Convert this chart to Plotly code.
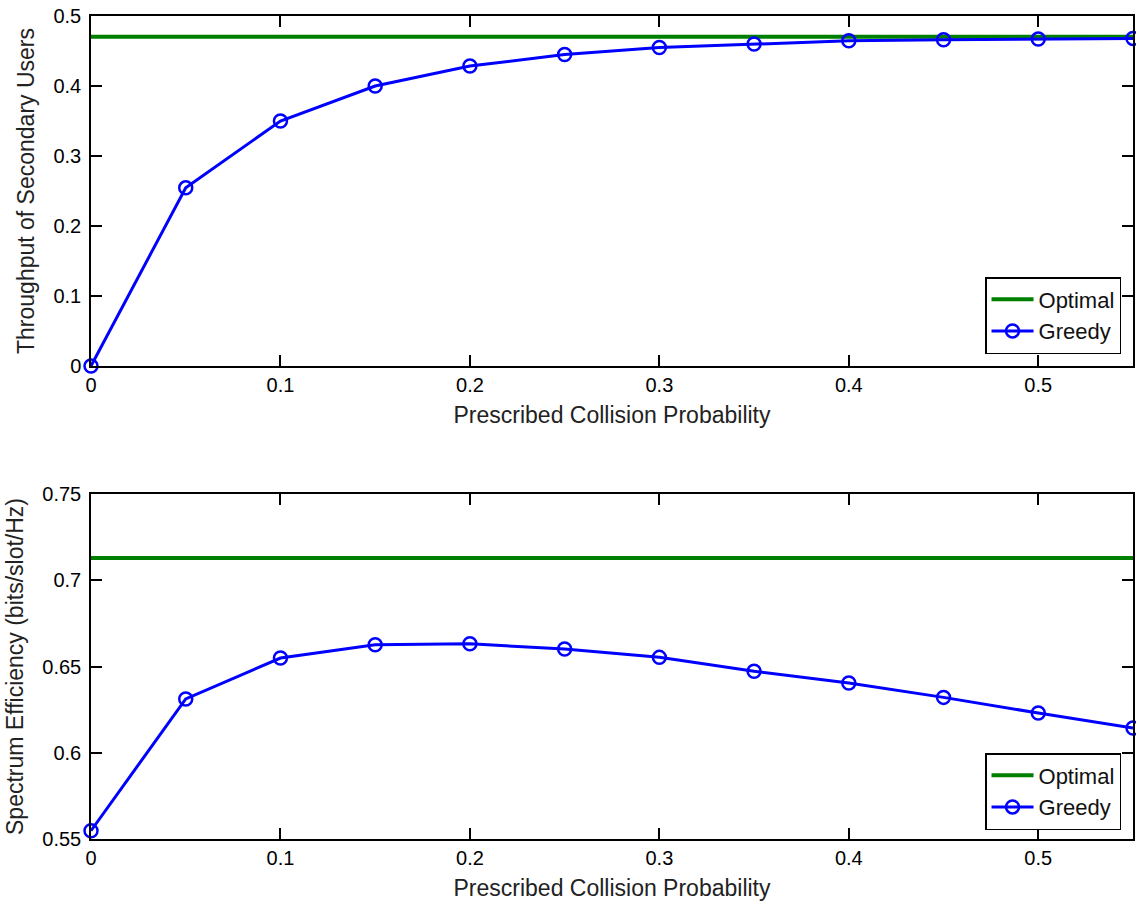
import plotly.graph_objects as go

# ---- data ----
x_prob = [0, 0.05, 0.1, 0.15, 0.2, 0.25, 0.3, 0.35, 0.4, 0.45, 0.5, 0.55]
thr_optimal = 0.4705
thr_greedy = [0.0, 0.2545, 0.350, 0.400, 0.4285, 0.445, 0.455, 0.460, 0.4645, 0.466, 0.467, 0.468]
se_optimal = 0.7129
se_greedy = [0.5548, 0.6312, 0.6549, 0.6626, 0.6632, 0.6601, 0.6553, 0.6472, 0.6404, 0.6321, 0.6230, 0.6143]

x_ticks = [0, 0.1, 0.2, 0.3, 0.4, 0.5]
x_ticktext = ["0", "0.1", "0.2", "0.3", "0.4", "0.5"]
y1_ticks = [0, 0.1, 0.2, 0.3, 0.4, 0.5]
y1_ticktext = ["0", "0.1", "0.2", "0.3", "0.4", "0.5"]
y2_ticks = [0.55, 0.6, 0.65, 0.7, 0.75]
y2_ticktext = ["0.55", "0.6", "0.65", "0.7", "0.75"]

x_title = "Prescribed Collision Probability"
y1_title = "Throughput of Secondary Users"
y2_title = "Spectrum Efficiency (bits/slot/Hz)"

GREEN = "#008000"
BLUE = "#0000ff"
FONT = "Liberation Sans, Arial, sans-serif"
FS = 20
FT = 23
FL = 22

fig = go.Figure()

# top panel
fig.add_trace(go.Scatter(x=[x_prob[0], x_prob[-1]], y=[thr_optimal, thr_optimal], mode="lines",
                         line=dict(color=GREEN, width=4), name="Optimal",
                         xaxis="x", yaxis="y", legend="legend", cliponaxis=False))
fig.add_trace(go.Scatter(x=x_prob, y=thr_greedy, mode="lines+markers",
                         line=dict(color=BLUE, width=3),
                         marker=dict(symbol="circle-open", size=13, color=BLUE, line=dict(width=2.5, color=BLUE)),
                         name="Greedy", xaxis="x", yaxis="y", legend="legend", cliponaxis=False))

# bottom panel
fig.add_trace(go.Scatter(x=[x_prob[0], x_prob[-1]], y=[se_optimal, se_optimal], mode="lines",
                         line=dict(color=GREEN, width=4), name="Optimal",
                         xaxis="x2", yaxis="y2", legend="legend2", cliponaxis=False))
fig.add_trace(go.Scatter(x=x_prob, y=se_greedy, mode="lines+markers",
                         line=dict(color=BLUE, width=3),
                         marker=dict(symbol="circle-open", size=13, color=BLUE, line=dict(width=2.5, color=BLUE)),
                         name="Greedy", xaxis="x2", yaxis="y2", legend="legend2", cliponaxis=False))

axis_common = dict(showline=True, linecolor="black", linewidth=1.5, mirror="ticks",
                   ticks="inside", ticklen=11, tickwidth=1.5, tickcolor="black",
                   showgrid=False, zeroline=False,
                   tickfont=dict(family=FONT, size=FS, color="black"))

H = 902
top_px, bot_px = 16, 63
plot_h = H - top_px - bot_px
d1 = [1 - (366 - 16) / plot_h, 1]
d2 = [0, (839 - 494) / plot_h]

legend_common = dict(xanchor="right", yanchor="bottom",
                     bgcolor="white", bordercolor="black", borderwidth=1.5,
                     font=dict(family=FONT, size=FL, color="#111"),
                     tracegroupgap=0, itemwidth=42)

fig.update_layout(
    width=1136, height=902,
    margin=dict(l=91, r=1, t=16, b=63),
    plot_bgcolor="white", paper_bgcolor="white",
    font=dict(family=FONT, size=FS, color="black"),
    xaxis=dict(range=[0, 0.55], domain=[0, 1], anchor="y", tickvals=x_ticks, ticktext=x_ticktext,
               title=dict(text=x_title, standoff=12, font=dict(size=FT, color="#222")), **axis_common),
    yaxis=dict(range=[0, 0.5], domain=d1, anchor="x", tickvals=y1_ticks, ticktext=y1_ticktext,
               ticklabelstandoff=4,
               title=dict(text=y1_title, standoff=12, font=dict(size=FT, color="#222")), **axis_common),
    xaxis2=dict(range=[0, 0.55], domain=[0, 1], anchor="y2", tickvals=x_ticks, ticktext=x_ticktext,
                title=dict(text=x_title, standoff=12, font=dict(size=FT, color="#222")), **axis_common),
    yaxis2=dict(range=[0.55, 0.75], domain=d2, anchor="x2", tickvals=y2_ticks, ticktext=y2_ticktext,
                ticklabelstandoff=4,
                title=dict(text=y2_title, standoff=12, font=dict(size=FT, color="#222")), **axis_common),
    legend=dict(x=(1123 - 91) / 1044, y=d1[0] + 12 / plot_h, **legend_common),
    legend2=dict(x=(1123 - 91) / 1044, y=d2[0] + 9 / plot_h, **legend_common),
)

fig.write_html("out.html", config={"displayModeBar": False},
               post_script="document.body.style.margin='0';")
